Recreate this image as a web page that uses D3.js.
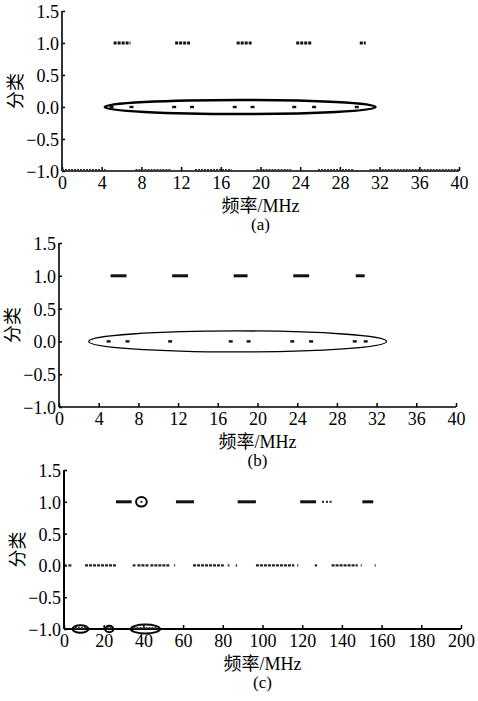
<!DOCTYPE html>
<html>
<head>
<meta charset="utf-8">
<script src="https://cdn.jsdelivr.net/npm/d3@7"></script>
<style>
  body { margin: 0; background: #fff; }
</style>
</head>
<body>
<svg id="chart" width="478" height="701"></svg>
<script>
var FONT = "'Liberation Serif', 'DejaVu Serif', 'Noto Sans CJK SC', serif";

// class labels shown on the y axis
var yTicks = [-1.0, -0.5, 0.0, 0.5, 1.0, 1.5];
var xTicksA = [0, 4, 8, 12, 16, 20, 24, 28, 32, 36, 40];
var xTicksC = [0, 20, 40, 60, 80, 100, 120, 140, 160, 180, 200];

// (a) frequency ranges (MHz) classified 1 / -1, and single points classified 0
var a_class1 = [[5.2, 6.9], [11.4, 12.9], [17.6, 19.1], [23.6, 25.2], [30.0, 30.6]];
var a_class0 = [5.0, 7.0, 11.3, 13.1, 17.4, 19.2, 23.4, 25.4, 29.7];
var a_classNeg = [[0, 4.4], [7.4, 11.0], [13.4, 17.1], [19.6, 23.1], [25.8, 29.4], [31.0, 40]];
// ellipse: [centre MHz, half width MHz, half height]
var a_ellipses = [[17.95, 13.65, 0.11]];

// (b)
var b_class1 = [[5.2, 6.8], [11.4, 13.0], [17.6, 19.0], [23.6, 25.2], [29.9, 30.8]];
var b_class0 = [5.0, 6.9, 11.2, 17.3, 19.1, 23.5, 25.4, 29.8, 30.9];
var b_classNeg = [];
var b_ellipses = [[18, 15, 0.16]];

// (c)
var c_class1 = [[26.2, 34.1], [56.4, 65.5], [87.5, 96.7], [119, 127], [150.3, 155.8]];
var c_class1pts = [39, 130.5, 132.5, 134.3];
var c_class0 = [[0.5, 1.2], [2.2, 3.9], [10.6, 26.2], [34.6, 36], [37, 43], [43.5, 53.5], [55.5, 56],
  [65, 80.5], [82.5, 83.3], [86.5, 87.2], [96.7, 116], [117.5, 118], [126.3, 127.5],
  [134.8, 148], [149.5, 150], [156.5, 157]];
var c_classNeg = [[5.5, 11], [21.5, 24], [35, 47]];
var c_ellipses = [[39, 2.7, 0.075, 1], [8.3, 4, 0.06, -1], [22.8, 2.1, 0.05, -1], [41, 7.4, 0.07, -1]];

var svg = d3.select("#chart");

function drawPanel(p) {
  var x = d3.scaleLinear().domain(p.xDomain).range(p.xRange);
  var y = d3.scaleLinear().domain([-1, 1.5]).range(p.yRange);
  var g = svg.append("g");

  // y axis, ticks pointing inward
  var yAxis = d3.axisLeft(y).tickValues(yTicks).tickSize(-3).tickPadding(3)
    .tickFormat(function (d) { return d3.format(".1f")(d).replace("-", "\u2212"); });
  var ya = g.append("g").attr("transform", "translate(" + p.xRange[0] + ",0)").call(yAxis);
  ya.select(".domain").remove();
  ya.append("line").attr("x1", 0).attr("x2", 0).attr("y1", y(1.5)).attr("y2", y(-1))
    .attr("stroke", "#000").attr("stroke-width", p.axisW);
  ya.selectAll(".tick line").attr("stroke-width", 1.5);
  ya.selectAll("text").style("font-family", FONT).style("font-size", "18px").attr("dy", "0.36em");

  // x axis at -1
  var xAxis = d3.axisBottom(x).tickValues(p.xTicks).tickSize(-4).tickPadding(5).tickFormat(d3.format("d"));
  var xa = g.append("g").attr("transform", "translate(0," + y(-1) + ")").call(xAxis);
  xa.select(".domain").remove();
  xa.append("line").attr("x1", x.range()[0]).attr("x2", x.range()[1])
    .attr("stroke", "#000").attr("stroke-width", p.axisW);
  xa.selectAll(".tick line").attr("stroke-width", 1.5);
  xa.selectAll("text").style("font-family", FONT).style("font-size", "18px").attr("dy", "0.72em");

  // axis labels
  g.append("text")
    .attr("transform", "translate(" + (p.xRange[0] - 46) + "," + y(0.25) + ") rotate(-90)")
    .attr("text-anchor", "middle").attr("dy", "0.35em")
    .style("font-family", FONT).style("font-size", "18px").text("分类");
  var mid = (p.xRange[0] + p.xRange[1]) / 2;
  g.append("text").attr("x", mid).attr("y", y(-1) + 41).attr("text-anchor", "middle")
    .style("font-family", FONT).style("font-size", "18px").text("频率/MHz");
  g.append("text").attr("x", mid).attr("y", y(-1) + 59).attr("text-anchor", "middle")
    .style("font-family", FONT).style("font-size", "17px").text(p.tag);

  // class 1 runs
  g.selectAll(".c1").data(p.class1).enter().append("line")
    .attr("x1", function (d) { return x(d[0]); }).attr("x2", function (d) { return x(d[1]); })
    .attr("y1", y(1)).attr("y2", y(1))
    .attr("stroke", "#111").attr("stroke-width", p.runW).attr("stroke-dasharray", p.dash1);

  if (p.class1pts) {
    g.selectAll(".c1p").data(p.class1pts).enter().append("rect")
      .attr("x", function (d) { return x(d) - 1; }).attr("y", y(1) - 1)
      .attr("width", 2).attr("height", 2).attr("fill", "#222");
  }

  // class 0
  if (p.class0runs) {
    g.selectAll(".c0").data(p.class0runs).enter().append("line")
      .attr("x1", function (d) { return x(d[0]); }).attr("x2", function (d) { return x(d[1]); })
      .attr("y1", y(0)).attr("y2", y(0))
      .attr("stroke", "#222").attr("stroke-width", 2.2).attr("stroke-dasharray", "3,1");
  } else {
    g.selectAll(".c0").data(p.class0).enter().append("rect")
      .attr("x", function (d) { return x(d) - 2; }).attr("y", y(0) - 1.2)
      .attr("width", 4).attr("height", 2.4).attr("fill", "#111");
  }

  // class -1 runs along the axis
  g.selectAll(".cn").data(p.classNeg).enter().append("line")
    .attr("x1", function (d) { return x(d[0]); }).attr("x2", function (d) { return x(d[1]); })
    .attr("y1", y(-1) - 1).attr("y2", y(-1) - 1)
    .attr("stroke", "#333").attr("stroke-width", 2).attr("stroke-dasharray", "2,1");

  // marking ellipses
  g.selectAll(".el").data(p.ellipses).enter().append("ellipse")
    .attr("cx", function (d) { return x(d[0]); })
    .attr("cy", function (d) { return y(d.length > 3 ? d[3] : 0); })
    .attr("rx", function (d) { return x(d[0] + d[1]) - x(d[0]); })
    .attr("ry", function (d) { return y(0) - y(d[2]); })
    .attr("fill", "none").attr("stroke", "#000").attr("stroke-width", p.ellW);
}

drawPanel({ xDomain: [0, 40], xRange: [62, 459], yRange: [171, 11], xTicks: xTicksA, tag: "(a)",
  class1: a_class1, class0: a_class0, classNeg: a_classNeg, ellipses: a_ellipses,
  axisW: 1.6, runW: 3, dash1: "3,1", ellW: 2.4 });

drawPanel({ xDomain: [0, 40], xRange: [59, 456], yRange: [407, 243], xTicks: xTicksA, tag: "(b)",
  class1: b_class1, class0: b_class0, classNeg: b_classNeg, ellipses: b_ellipses,
  axisW: 1.6, runW: 3, dash1: null, ellW: 1.3 });

drawPanel({ xDomain: [0, 200], xRange: [64, 461], yRange: [629, 470], xTicks: xTicksC, tag: "(c)",
  class1: c_class1, class1pts: c_class1pts, class0runs: c_class0, classNeg: c_classNeg, ellipses: c_ellipses,
  axisW: 2, runW: 3, dash1: null, ellW: 2 });
</script>
</body>
</html>
